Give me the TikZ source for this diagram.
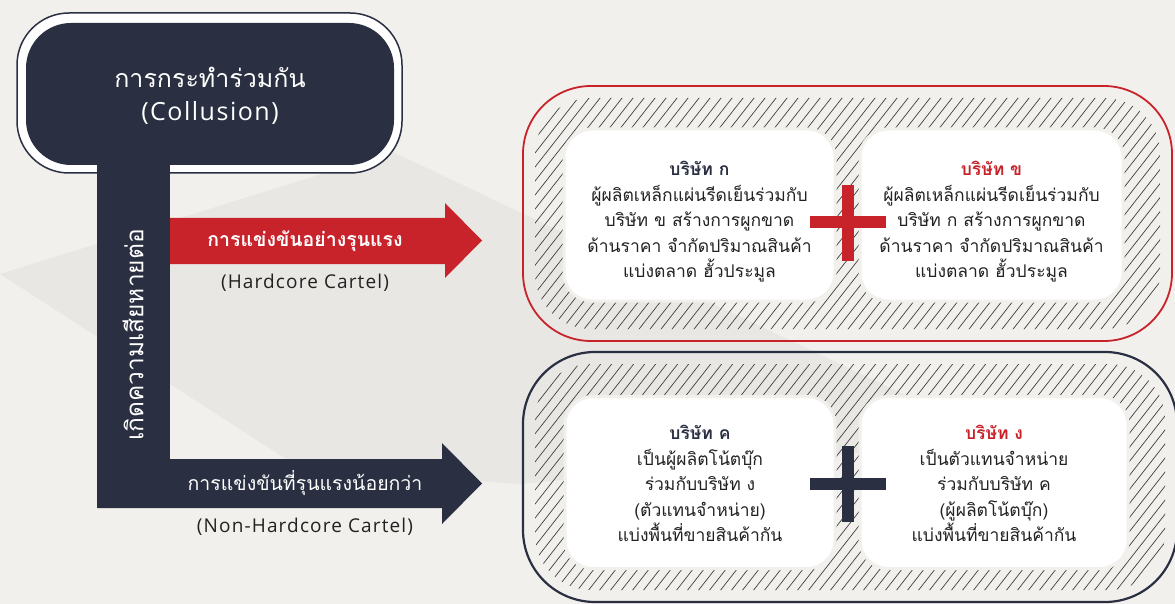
\documentclass[tikz,border=0pt]{standalone}
\usepackage{fontspec}
\setmainfont[Script=Thai]{Loma}
\newfontfamily\latinfont[LetterSpace=6]{Open Sans}
\usepackage{tikz}
\usetikzlibrary{positioning}

\definecolor{navy}{HTML}{2A3042}
\definecolor{cartelred}{HTML}{C8232B}
\definecolor{paper}{HTML}{F2F0EC}
\definecolor{bgshade}{HTML}{E8E7E4}
\definecolor{inktext}{HTML}{222222}

\begin{document}
\begin{tikzpicture}[
    x=1pt, y=-1pt,
    node distance=10pt,
    firmbox/.style={rectangle, fill=white, draw=paper, line width=3pt, rounded corners=28pt, minimum width=#1, minimum height=172pt},
    firmtext/.style={align=center, text=inktext, font=\fontsize{17.5}{25.5}\selectfont},
    hatch/.style={draw=black!75, line width=0.7pt},
    arrowtext/.style={text=white, font=\fontsize{19.5}{22}\selectfont},
    cartellabel/.style={text=inktext, font=\latinfont\fontsize{19}{22}\selectfont}
]
\useasboundingbox (0,0) rectangle (1175,604);

% background
\fill[paper] (0,0) rectangle (1175,604);
\fill[bgshade] (0,274) -- (393,152) -- (1000,440) -- (520,484) -- (300,468) -- cycle;

% collusion head and stem
\draw[navy, line width=1.5pt, fill=white, rounded corners=52pt] (17,13) rectangle (402,173);
\fill[navy, rounded corners=45pt] (26,23) rectangle (394,165);
\fill[navy] (97,160) rectangle (170,508);
\fill[navy] (97,459) -- (442,459) -- (442,443) -- (482,483.5) -- (442,524) -- (442,508) -- (97,508) -- cycle;
\fill[cartelred] (170,218) -- (445,218) -- (445,203) -- (482,240.5) -- (445,278) -- (445,264) -- (170,264) -- cycle;

\node[text=white, align=center, font=\fontsize{25}{33}\selectfont] (collusion) at (210,96) {การกระทำร่วมกัน\\{\latinfont (Collusion)}};
\node[text=white, rotate=90, font=\fontsize{24.5}{28}\selectfont] (harm) at (133,335) {เกิดความเสียหายต่อ};

\node[arrowtext, font=\fontsize{19.5}{22}\selectfont\bfseries] (hardcore) at (305,241) {การแข่งขันอย่างรุนแรง};
\node[cartellabel, below=16pt of hardcore] (hardcoreEn) {(Hardcore Cartel)};
\node[arrowtext] (softcore) at (305,483) {การแข่งขันที่รุนแรงน้อยกว่า};
\node[cartellabel, below=15pt of softcore] (softcoreEn) {(Non-Hardcore Cartel)};

% containers
\begin{scope}
  \clip[rounded corners=56pt] (535,98) rectangle (1160,329) (535,364) rectangle (1165,590);
  \foreach \x in {100,111,...,1190}
    \draw[hatch] (\x,610) -- ++(470,-600);
\end{scope}
\draw[cartelred, line width=1.8pt, rounded corners=68pt] (523,86) rectangle (1172,341);
\draw[navy, line width=2.2pt, rounded corners=72pt] (523,352) rectangle (1177,602);

\node[firmbox=271pt] (firmA) at (699.5,215) {};
\node[firmbox=263pt] (firmB) at (991.5,215) {};
\node[firmbox=270pt] (firmC) at (700,482.5) {};
\node[firmbox=268pt] (firmD) at (994,482.5) {};

\node[firmtext] (firmAtext) at ([yshift=-7pt]firmA.center) {\textbf{\textcolor{navy}{บริษัท ก}}\\ผู้ผลิตเหล็กแผ่นรีดเย็นร่วมกับ\\บริษัท ข สร้างการผูกขาด\\ด้านราคา จำกัดปริมาณสินค้า\\แบ่งตลาด ฮั้วประมูล};
\node[firmtext] (firmBtext) at ([yshift=-7pt]firmB.center) {\textbf{\textcolor{cartelred}{บริษัท ข}}\\ผู้ผลิตเหล็กแผ่นรีดเย็นร่วมกับ\\บริษัท ก สร้างการผูกขาด\\ด้านราคา จำกัดปริมาณสินค้า\\แบ่งตลาด ฮั้วประมูล};
\node[firmtext] (firmCtext) at ([yshift=-1pt]firmC.center) {\textbf{\textcolor{navy}{บริษัท ค}}\\เป็นผู้ผลิตโน้ตบุ๊ก\\ร่วมกับบริษัท ง\\(ตัวแทนจำหน่าย)\\แบ่งพื้นที่ขายสินค้ากัน};
\node[firmtext] (firmDtext) at ([yshift=-1pt]firmD.center) {\textbf{\textcolor{cartelred}{บริษัท ง}}\\เป็นตัวแทนจำหน่าย\\ร่วมกับบริษัท ค\\(ผู้ผลิตโน้ตบุ๊ก)\\แบ่งพื้นที่ขายสินค้ากัน};

% plus signs
\fill[cartelred] (842,185) rectangle (854,261);
\fill[cartelred] (810,216) rectangle (886,228);
\fill[navy] (842,446) rectangle (854,522);
\fill[navy] (810,478) rectangle (886,490);
\end{tikzpicture}
\end{document}
